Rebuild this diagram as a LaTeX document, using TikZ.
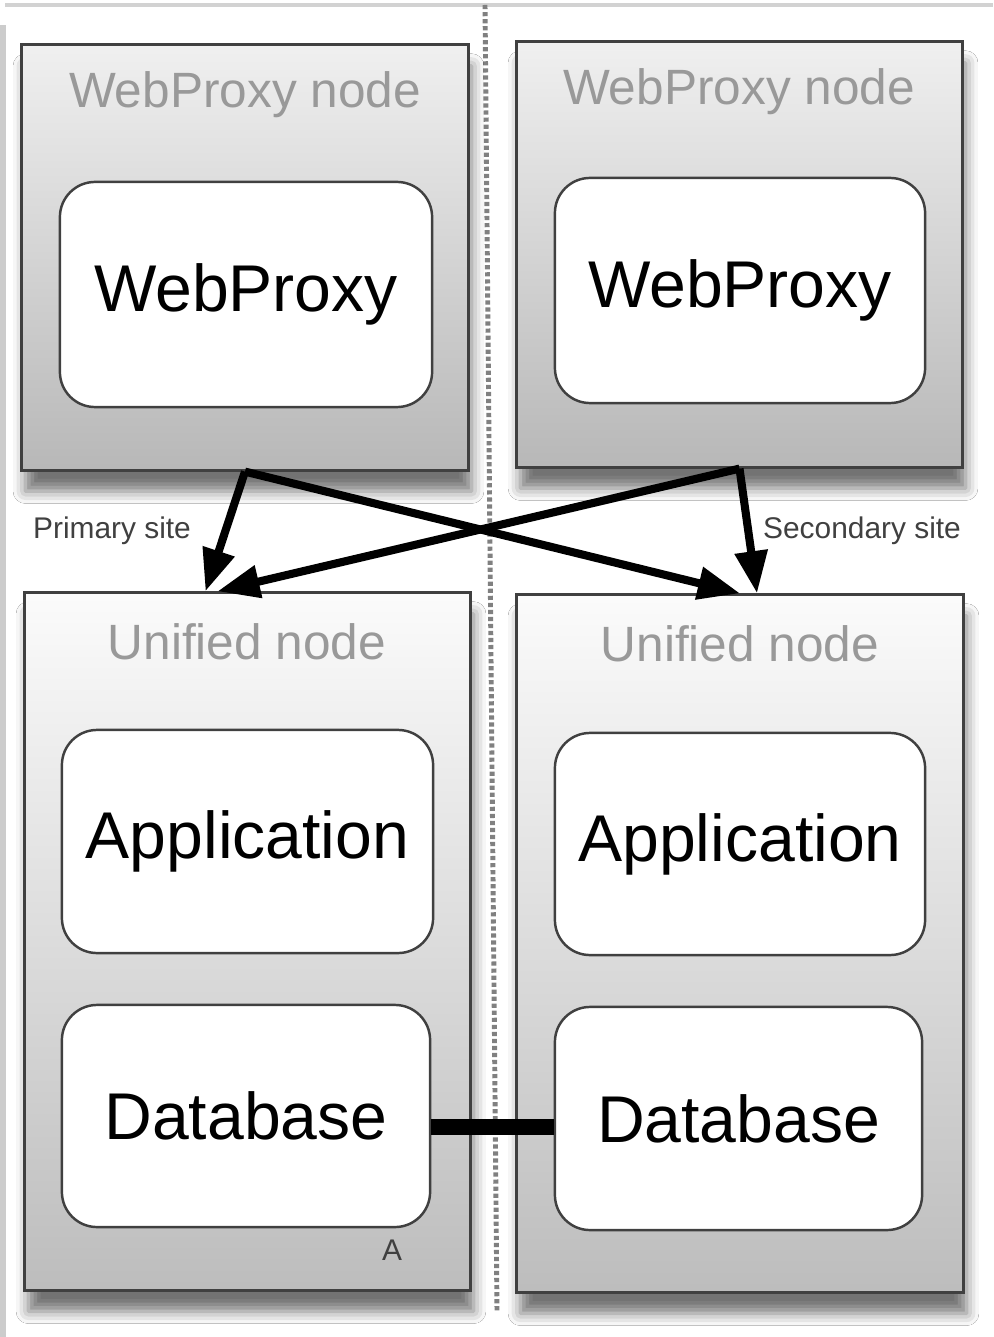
\documentclass[tikz,border=0pt]{standalone}
\usepackage{fontspec}
\setmainfont{Liberation Sans}
\usepackage{xcolor}
\usetikzlibrary{arrows.meta, positioning, calc, shadows.blur}

\tikzset{
  hostbox/.style={draw=black!75, line width=0.85pt, inner sep=0pt,
    top color=gray!12, bottom color=gray!56,
    blur shadow={shadow xshift=1pt, shadow yshift=-6pt, shadow blur radius=3.5pt, shadow opacity=55}},
  unifiedbox/.style={hostbox, top color=gray!3, bottom color=gray!52},
  servicebox/.style={draw=black!75, line width=0.7pt, fill=white, rounded corners=10pt,
    inner sep=0pt, font=\fontsize{18.8}{20}\selectfont},
  hosttitle/.style={text=black!40, font=\fontsize{14.1}{16}\selectfont},
  sitelabel/.style={text=black!75, font=\fontsize{8.5}{10}\selectfont},
  flow/.style={line width=2.3pt, -{Triangle[length=12pt, width=9pt]}},
  dblink/.style={line width=4.3pt},
  sepline/.style={draw=gray, line width=1.4pt, dash pattern=on 1.2pt off 0.8pt},
}

\begin{document}
\begin{tikzpicture}[x=0.01cm, y=-0.01cm]
      \useasboundingbox (0,0) rectangle (993,1337);
      \fill[white] (0,0) rectangle (993,1337);

      % page frame
      \draw[gray!35, line width=1pt] (5,5) -- (993,5);
      \fill[gray!40] (0,25) rectangle (6,1337);

      % site separator
      \coordinate (sepTop) at (485,5);
      \coordinate (sepBot) at (497,1312);
      \draw[sepline] (sepTop) -- (sepBot);

      % host nodes
      \node[hostbox, minimum width=4.46cm, minimum height=4.25cm] at (245,257.5) (wpL) {};
      \node[hostbox, minimum width=4.45cm, minimum height=4.25cm] at (739.5,254.5) (wpR) {};
      \node[unifiedbox, minimum width=4.45cm, minimum height=6.97cm] at (247.5,941.5) (unL) {};
      \node[unifiedbox, minimum width=4.46cm, minimum height=6.97cm] at (740,943.5) (unR) {};

      \node[hosttitle] at (245,95) (wpLtitle) {WebProxy node};
      \node[hosttitle] at (739,92) (wpRtitle) {WebProxy node};
      \node[hosttitle] at (247,642) (unLtitle) {Unified node};
      \node[hosttitle] at (740,644) (unRtitle) {Unified node};

      % services
      \node[servicebox, minimum width=3.72cm, minimum height=2.25cm] at (246,294.5) (proxyL) {WebProxy};
      \node[servicebox, minimum width=3.70cm, minimum height=2.25cm] at (740,290.5) (proxyR) {WebProxy};
      \node[servicebox, minimum width=3.71cm, minimum height=2.23cm] at (247.5,841.5) (appL) {Application};
      \node[servicebox, minimum width=3.70cm, minimum height=2.22cm] at (740,844) (appR) {Application};
      \node[servicebox, minimum width=3.68cm, minimum height=2.22cm] at (246,1116) (dbL) {Database};
      \node[servicebox, minimum width=3.67cm, minimum height=2.23cm] at (738.5,1118.5) (dbR) {Database};

      \node[sitelabel] at (392,1250) (markA) {A};
      \node[sitelabel] at (112,531) (primary) {Primary site};
      \node[sitelabel] at (862,531) (secondary) {Secondary site};

      % routing
      \draw[flow] (wpL.south) -- ([xshift=-0.42cm]unL.north);
      \draw[flow] (wpL.south) -- (unR.north);
      \draw[flow] (wpR.south) -- ([xshift=0.17cm]unR.north);
      \draw[flow] (wpR.south) -- ([xshift=-0.3cm]unL.north);

      % replication
      \coordinate (linkMid) at (490,1127);
      \draw[dblink] (dbL.east |- linkMid) -- (dbR.west |- linkMid);
\end{tikzpicture}
\end{document}
